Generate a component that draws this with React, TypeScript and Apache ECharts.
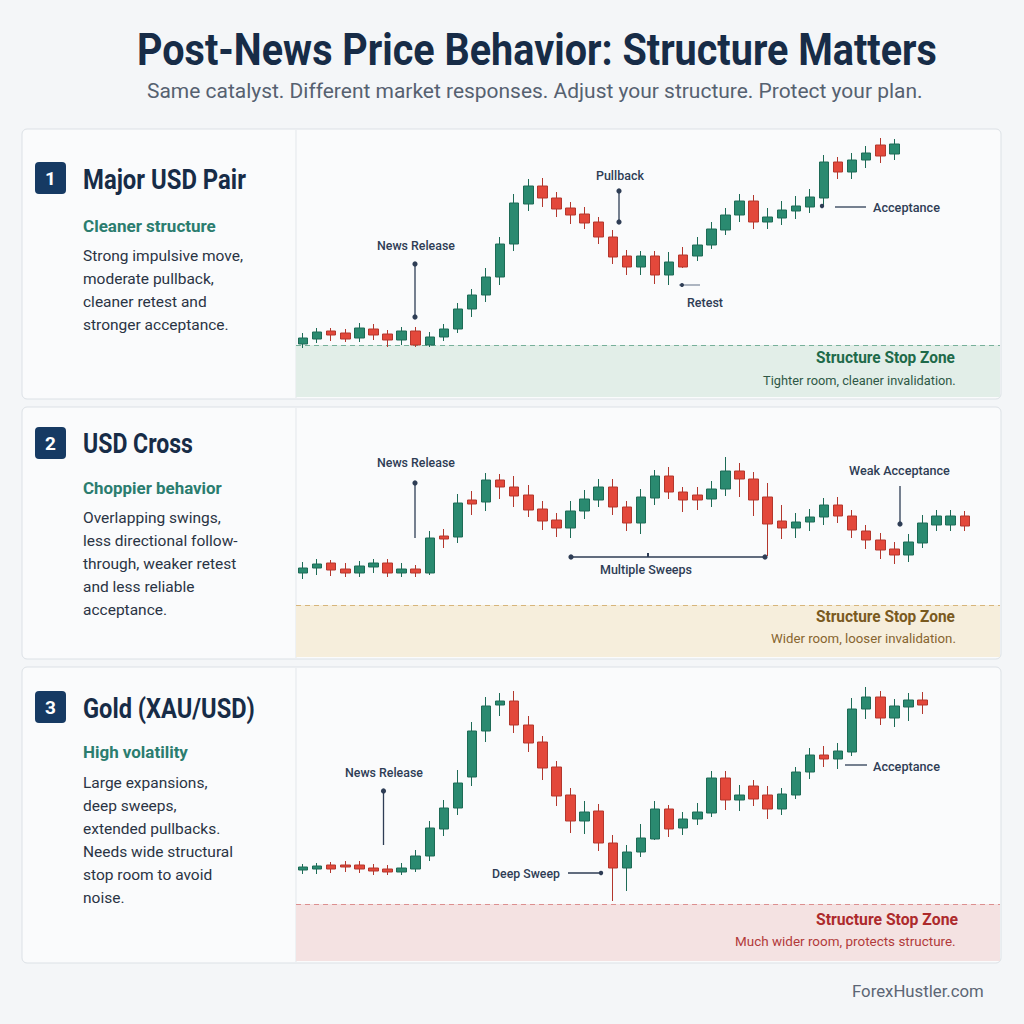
import React, { useEffect, useRef } from "react";
import * as echarts from "echarts";

// ---------- DATA (each candle: [open, close, low, high]) ----------
const slots: string[] = [
  "1","2","3","4","5","6","7","8","9","10","11","12","13","14","15","16","17","18","19","20",
  "21","22","23","24","25","26","27","28","29","30","31","32","33","34","35","36","37","38","39","40",
  "41","42","43","44","45","46","47","48","49","50",
];

const majorPair: number[][] = [
  [56, 62, 52, 67], [61, 68, 57, 72], [69, 65, 59, 72], [67, 61, 58, 71], [62, 72, 58, 77],
  [71, 65, 60, 76], [66, 60, 53, 70], [60, 69, 55, 73], [69, 55, 53, 73], [55, 63, 53, 68],
  [63, 71, 59, 76], [71, 91, 67, 97], [91, 105, 83, 111], [105, 123, 98, 132], [123, 156, 115, 163],
  [156, 197, 149, 206], [196, 214, 189, 221], [214, 202, 193, 222], [202, 191, 183, 208], [192, 185, 176, 198],
  [186, 177, 171, 193], [178, 163, 156, 183], [163, 143, 136, 170], [144, 133, 125, 150], [133, 144, 125, 149],
  [144, 125, 116, 149], [125, 138, 115, 148], [145, 133, 132, 153], [144, 155, 139, 163], [155, 171, 151, 178],
  [170, 185, 165, 192], [185, 199, 178, 206], [199, 178, 171, 205], [178, 183, 171, 192], [182, 190, 175, 199],
  [189, 194, 181, 204], [193, 203, 187, 211], [202, 238, 193, 245], [238, 228, 221, 243], [228, 240, 221, 247],
  [240, 247, 232, 254], [255, 244, 237, 262], [246, 256, 240, 261],
];

const usdCross: number[][] = [
  [87, 92, 81, 98], [92, 96, 85, 101], [97, 90, 84, 100], [91, 87, 83, 97], [87, 94, 83, 99],
  [93, 97, 87, 101], [97, 87, 83, 101], [87, 91, 83, 97], [91, 87, 83, 95], [87, 122, 85, 129],
  [124, 121, 112, 131], [123, 157, 117, 166], [160, 156, 145, 169], [158, 180, 149, 187], [180, 173, 161, 186],
  [173, 164, 153, 184], [165, 150, 143, 175], [151, 139, 130, 159], [140, 132, 123, 147], [132, 149, 122, 159],
  [149, 161, 141, 170], [160, 173, 153, 181], [173, 153, 145, 181], [153, 137, 129, 159], [137, 163, 126, 171],
  [162, 184, 155, 190], [184, 168, 161, 193], [168, 160, 148, 173], [165, 160, 150, 173], [161, 171, 153, 179],
  [171, 189, 164, 203], [189, 181, 163, 197], [181, 160, 144, 188], [163, 136, 104, 177], [139, 132, 121, 155],
  [132, 138, 122, 147], [138, 143, 129, 151], [143, 155, 135, 162], [155, 144, 137, 163], [144, 130, 122, 150],
  [129, 120, 111, 135], [120, 110, 101, 127], [111, 105, 96, 118], [105, 118, 98, 126], [117, 137, 112, 145],
  [135, 144, 129, 150], [135, 144, 129, 150], [144, 134, 129, 149],
];

const gold: number[][] = [
  [90, 93, 86, 96], [91, 94, 86, 97], [95, 91, 87, 98], [95, 93, 88, 99], [95, 91, 87, 99],
  [92, 89, 85, 96], [91, 88, 85, 95], [88, 92, 85, 97], [91, 104, 88, 110], [104, 132, 99, 139],
  [131, 152, 124, 160], [152, 177, 145, 190], [183, 229, 174, 238], [229, 254, 218, 263], [255, 259, 244, 267],
  [259, 235, 227, 269], [235, 217, 208, 244], [218, 192, 180, 224], [193, 164, 154, 199], [165, 139, 127, 172],
  [139, 148, 126, 159], [149, 117, 109, 156], [117, 92, 59, 125], [92, 108, 69, 115], [108, 122, 103, 136],
  [121, 151, 120, 159], [151, 131, 123, 155], [132, 141, 125, 148], [141, 148, 135, 157], [147, 182, 143, 189],
  [182, 160, 150, 189], [160, 165, 149, 175], [174, 161, 154, 180], [165, 151, 141, 174], [151, 166, 145, 172],
  [165, 188, 161, 193], [188, 205, 181, 212], [205, 201, 193, 214], [201, 209, 191, 217], [208, 251, 204, 262],
  [251, 263, 241, 273], [263, 242, 235, 269], [242, 254, 233, 261], [253, 260, 239, 267], [260, 255, 246, 268],
];

const priceMin: number[] = [3, 3, -1];
const priceMax: number[] = [270, 252, 292];
const stopZoneTop: number[] = [55, 55, 56];

// ---------- TEXT ----------
const TITLE = "Post-News Price Behavior: Structure Matters";
const SUBTITLE = "Same catalyst. Different market responses. Adjust your structure. Protect your plan.";
const FOOTER = "ForexHustler.com";
const panelTitles = ["Major USD Pair", "USD Cross", "Gold (XAU/USD)"];
const panelSubs = ["Cleaner structure", "Choppier behavior", "High volatility"];
const panelBodies = [
  ["Strong impulsive move,", "moderate pullback,", "cleaner retest and", "stronger acceptance."],
  ["Overlapping swings,", "less directional follow-", "through, weaker retest", "and less reliable", "acceptance."],
  ["Large expansions,", "deep sweeps,", "extended pullbacks.", "Needs wide structural", "stop room to avoid", "noise."],
];
const zoneTitles = ["Structure Stop Zone", "Structure Stop Zone", "Structure Stop Zone"];
const zoneNotes = ["Tighter room, cleaner invalidation.", "Wider room, looser invalidation.", "Much wider room, protects structure."];

// ---------- STYLE / LAYOUT ----------
const FONT = "Roboto";
const NAVY = "#172c47";
const TEAL = "#2b7d6f";
const BODY = "#2a3444";
const ANN = "#2e3d55";
const UP = "#2a8a70";
const UP_B = "#1d6b56";
const DN = "#e3483b";
const DN_B = "#b3372d";

const panelBoxes = [
  { y: 129, h: 270 },
  { y: 407, h: 252 },
  { y: 667, h: 296 },
];
const gridBoxes = [
  { top: 130, height: 267 },
  { top: 408, height: 249 },
  { top: 668, height: 293 },
];
const badgeY = [162, 427, 691];
const titleY = [179, 444, 708];
const titleW = [163, 110, 172];
const subY = [226, 488, 752];
const subW = [133, 139, 105];
const bodyY0 = [256, 518, 783];
const zoneFill = ["#e2eee8", "#f6eedc", "#f4e2e2"];
const zoneLine = ["#77b09a", "#d7b57a", "#dc8f8f"];
const zoneTitleColor = ["#1e6a4a", "#7a5a1f", "#ad2a2c"];
const zoneNoteColor = ["#2f5846", "#87652f", "#b23a3a"];
const zoneTitleY = [357, 616, 919];
const zoneNoteY = [380, 639, 942];
const zoneTitleW = [139, 139, 142];
const zoneNoteW = [193, 185, 221];

let measureCtx: CanvasRenderingContext2D | null = null;
function fit(text: string, font: string, target: number): number {
  if (!measureCtx) measureCtx = document.createElement("canvas").getContext("2d");
  if (!measureCtx) return 1;
  measureCtx.font = font;
  const w = measureCtx.measureText(text).width;
  return w > 0 ? target / w : 1;
}

function txt(
  text: string, x: number, y: number, size: number, weight: string | number, color: string,
  align: string = "left", width?: number
): any {
  const font = `${weight} ${size}px ${FONT}`;
  const s = width ? fit(text, font, width) : 1;
  return {
    type: "text",
    x, y,
    originX: 0, originY: 0,
    scaleX: s,
    z: 20,
    style: {
      text, fill: color, fontSize: size, fontWeight: weight, fontFamily: FONT,
      textAlign: align, textVerticalAlign: "middle", align, verticalAlign: "middle",
    },
  };
}

function line(x1: number, y1: number, x2: number, y2: number, color = ANN, w = 1.3): any {
  return { type: "line", z: 20, shape: { x1, y1, x2, y2 }, style: { stroke: color, lineWidth: w } };
}
function dot(cx: number, cy: number, r = 2.6, color = ANN): any {
  return { type: "circle", z: 21, shape: { cx, cy, r }, style: { fill: color } };
}

export default function App() {
  const ref = useRef<HTMLDivElement>(null);

  useEffect(() => {
    if (!ref.current) return;
    const chart = echarts.init(ref.current, undefined, { renderer: "svg" });
    const datasets = [majorPair, usdCross, gold];

    const graphics: any[] = [];
    // panel frames
    panelBoxes.forEach((b) => {
      graphics.push({
        type: "rect", z: 0,
        shape: { x: 22, y: b.y, width: 979, height: b.h, r: 5 },
        style: { fill: "#fafbfc", stroke: "#dce1e6", lineWidth: 1 },
      });
      graphics.push({
        type: "line", z: 1,
        shape: { x1: 296, y1: b.y + 1, x2: 296, y2: b.y + b.h - 1 },
        style: { stroke: "#e3e7eb", lineWidth: 1 },
      });
    });
    // title
    graphics.push(txt(TITLE, 137, 50, 44, "bold", NAVY, "left", 800));
    graphics.push(txt(SUBTITLE, 147, 91, 21, "normal", "#566170", "left", 776));
    graphics.push(txt(FOOTER, 852, 992, 16, "normal", "#5c6675", "left", 132));

    // left text blocks
    for (let p = 0; p < 3; p++) {
      graphics.push({
        type: "rect", z: 10,
        shape: { x: 35, y: badgeY[p], width: 31, height: 32, r: 4 },
        style: { fill: "#163a63" },
      });
      const num = String(p + 1);
      graphics.push({
        type: "text", z: 20, x: 50.5, y: badgeY[p] + 16.5,
        style: {
          text: num, fill: "#ffffff", fontSize: 19, fontWeight: "bold", fontFamily: FONT,
          textAlign: "center", textVerticalAlign: "middle", align: "center", verticalAlign: "middle",
        },
      });
      graphics.push(txt(panelTitles[p], 83, titleY[p], 27, "bold", NAVY, "left", titleW[p]));
      graphics.push(txt(panelSubs[p], 83, subY[p], 17, "bold", TEAL, "left", subW[p]));
      panelBodies[p].forEach((l, i) => {
        graphics.push(txt(l, 83, bodyY0[p] + i * 23, 15.5, "normal", BODY));
      });
      graphics.push(txt(zoneTitles[p], 816, zoneTitleY[p], 16, "bold", zoneTitleColor[p], "left", zoneTitleW[p]));
      graphics.push(txt(zoneNotes[p], 956 - zoneNoteW[p], zoneNoteY[p], 13, "normal", zoneNoteColor[p], "left", zoneNoteW[p]));
    }

    // annotations – panel 1
    graphics.push(txt("News Release", 377, 245, 13, 500, ANN, "left", 78));
    graphics.push(line(415, 264, 415, 317), dot(415, 264), dot(415, 317));
    graphics.push(txt("Pullback", 596, 175.5, 13, 500, ANN, "left", 48));
    graphics.push(line(619, 191, 619, 222), dot(619, 191), dot(619, 222));
    graphics.push(txt("Retest", 687, 302, 13, 500, ANN, "left", 36));
    graphics.push(line(679, 285, 700, 285, "#7b8799", 1.2), dot(682, 285, 2));
    graphics.push(txt("Acceptance", 873, 207, 13, 500, ANN, "left", 67));
    graphics.push(line(835, 207, 866, 207), dot(822, 206, 2.2));
    // panel 2
    graphics.push(txt("News Release", 377, 462, 13, 500, ANN, "left", 78));
    graphics.push(line(415, 483, 415, 538), dot(415, 483));
    graphics.push(txt("Multiple Sweeps", 600, 569, 13, 500, ANN, "left", 92));
    graphics.push(line(571, 557, 765, 557), dot(571, 557), dot(765, 557), line(648, 553, 648, 557, ANN, 2));
    graphics.push(txt("Weak Acceptance", 849, 470, 13, 500, ANN, "left", 101));
    graphics.push(line(900, 486, 900, 524), dot(900, 524));
    // panel 3
    graphics.push(txt("News Release", 345, 772, 13, 500, ANN, "left", 78));
    graphics.push(line(383.5, 791, 383.5, 845), dot(383.5, 791));
    graphics.push(txt("Deep Sweep", 492, 873, 13, 500, ANN, "left", 68));
    graphics.push(line(568, 873, 601, 873), dot(601, 873, 2.2));
    graphics.push(txt("Acceptance", 873, 766, 13, 500, ANN, "left", 67));
    graphics.push(line(845, 765, 867, 765));

    const grids = gridBoxes.map((g) => ({ left: 296, width: 704, top: g.top, height: g.height }));
    const xAxes = gridBoxes.map((_, i) => ({
      type: "category", gridIndex: i, data: slots, boundaryGap: true, show: false,
    }));
    const yAxes = gridBoxes.map((_, i) => ({
      type: "value", gridIndex: i, min: priceMin[i], max: priceMax[i], show: false, splitLine: { show: false },
    }));

    const series = datasets.map((d, i) => ({
      type: "candlestick",
      xAxisIndex: i, yAxisIndex: i,
      data: d,
      barWidth: 10,
      z: 5,
      itemStyle: { color: UP, color0: DN, borderColor: UP_B, borderColor0: DN_B, borderWidth: 1 },
      markArea: {
        silent: true,
        itemStyle: { color: zoneFill[i] },
        data: [[{ yAxis: priceMin[i] }, { yAxis: stopZoneTop[i] }]],
      },
      markLine: {
        silent: true,
        symbol: ["none", "none"],
        label: { show: false },
        lineStyle: { color: zoneLine[i], type: [5, 4], width: 1 },
        data: [{ yAxis: stopZoneTop[i] }],
      },
    }));

    chart.setOption({
      animation: false,
      backgroundColor: "#f4f6f8",
      grid: grids,
      xAxis: xAxes,
      yAxis: yAxes,
      series,
      graphic: { elements: graphics },
    });

    return () => chart.dispose();
  }, []);

  return (
    <div
      ref={ref}
      style={{ position: "fixed", left: 0, top: 0, width: 1024, height: 1024 }}
    />
  );
}
